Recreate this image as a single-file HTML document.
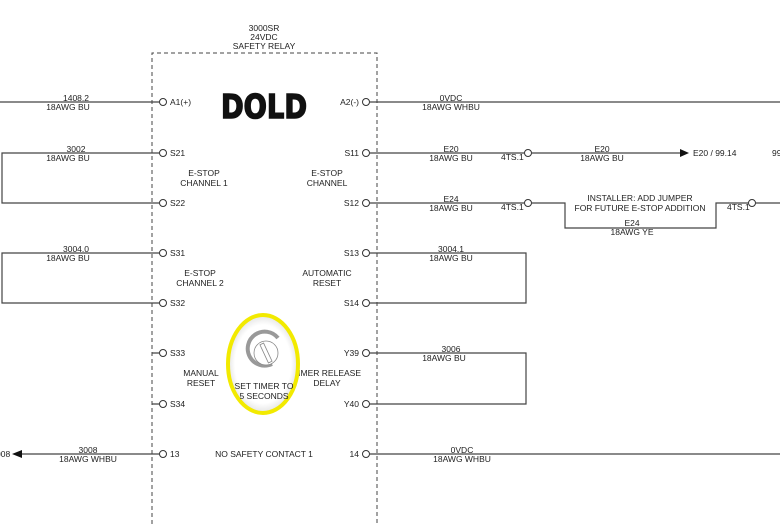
<!DOCTYPE html>
<html><head><meta charset="utf-8"><style>
html,body{margin:0;padding:0;background:#fff;}
svg{display:block;}
text{font-family:"Liberation Sans","DejaVu Sans",sans-serif;font-size:8.5px;fill:#222;}
.c{text-anchor:middle}
.r{text-anchor:end}
</style></head><body>
<svg width="780" height="524" viewBox="0 0 780 524" xmlns="http://www.w3.org/2000/svg">
<defs>
<radialGradient id="g" cx="0.5" cy="0.5" r="0.5"><stop offset="0.8" stop-color="#fff"/><stop offset="1" stop-color="#e4e4e4"/></radialGradient>
</defs>
<text class="c" x="264" y="31">3000SR</text>
<text class="c" x="264" y="40">24VDC</text>
<text class="c" x="264" y="49">SAFETY RELAY</text>
<path d="M152 524V53H377V524" fill="none" stroke="#444" stroke-width="1" stroke-dasharray="4,3"/>
<text x="221" y="118" textLength="86" lengthAdjust="spacingAndGlyphs" style="font-family:'DejaVu Sans',sans-serif;font-size:33px;font-weight:bold;fill:#111;stroke:#111;stroke-width:1.5">DOLD</text>
<g stroke="#444" stroke-width="1.2" fill="none">
<path d="M0 102H159"/>
<path d="M159 153H2V203H159"/>
<path d="M159 253H2V303H159"/>
<path d="M159 353H152M159 404H152"/>
<path d="M20 454H159"/>
<path d="M370 102H780"/>
<path d="M370 153H524M532 153H680"/>
<path d="M370 203H524M532 203H565V228H716V203H748M756 203H780"/>
<path d="M370 253H526V303H370"/>
<path d="M370 353H526V404H370"/>
<path d="M370 454H780"/>
</g>
<g stroke="#333" stroke-width="1" fill="#fff">
<circle cx="163" cy="102" r="3.5"/><circle cx="163" cy="153" r="3.5"/><circle cx="163" cy="203" r="3.5"/>
<circle cx="163" cy="253" r="3.5"/><circle cx="163" cy="303" r="3.5"/><circle cx="163" cy="353" r="3.5"/>
<circle cx="163" cy="404" r="3.5"/><circle cx="163" cy="454" r="3.5"/>
<circle cx="366" cy="102" r="3.5"/><circle cx="366" cy="153" r="3.5"/><circle cx="366" cy="203" r="3.5"/>
<circle cx="366" cy="253" r="3.5"/><circle cx="366" cy="303" r="3.5"/><circle cx="366" cy="353" r="3.5"/>
<circle cx="366" cy="404" r="3.5"/><circle cx="366" cy="454" r="3.5"/>
<circle cx="528" cy="153" r="3.5"/><circle cx="528" cy="203" r="3.5"/><circle cx="752" cy="203" r="3.5"/>
</g>
<path d="M680 149L689 153L680 157Z" fill="#111"/>
<path d="M12 454L22 450V458Z" fill="#111"/>
<text x="170" y="105">A1(+)</text><text x="170" y="156">S21</text><text x="170" y="206">S22</text>
<text x="170" y="256">S31</text><text x="170" y="306">S32</text><text x="170" y="356">S33</text>
<text x="170" y="407">S34</text><text x="170" y="457">13</text>
<text class="r" x="359" y="105">A2(-)</text><text class="r" x="359" y="156">S11</text><text class="r" x="359" y="206">S12</text>
<text class="r" x="359" y="256">S13</text><text class="r" x="359" y="306">S14</text><text class="r" x="359" y="356">Y39</text>
<text class="r" x="359" y="407">Y40</text><text class="r" x="359" y="457">14</text>
<text class="c" x="204" y="176">E-STOP</text><text class="c" x="204" y="186">CHANNEL 1</text>
<text class="c" x="327" y="176">E-STOP</text><text class="c" x="327" y="186">CHANNEL</text>
<text class="c" x="200" y="276">E-STOP</text><text class="c" x="200" y="286">CHANNEL 2</text>
<text class="c" x="327" y="276">AUTOMATIC</text><text class="c" x="327" y="286">RESET</text>
<text class="c" x="201" y="376">MANUAL</text><text class="c" x="201" y="386">RESET</text>
<text class="c" x="327" y="376">TIMER RELEASE</text><text class="c" x="327" y="386">DELAY</text>
<text class="c" x="264" y="457">NO SAFETY CONTACT 1</text>
<ellipse cx="263" cy="364" rx="35" ry="49" fill="url(#g)" stroke="#f2ea00" stroke-width="4"/>
<path d="M278 338A17 17 0 1 0 272 364" fill="none" stroke="#999" stroke-width="4"/>
<circle cx="266" cy="353" r="12" fill="#fff" stroke="#888" stroke-width="0.8"/>
<rect x="264" y="343" width="4" height="20" fill="#fff" stroke="#888" stroke-width="0.8" transform="rotate(-25 266 353)"/>
<text class="c" x="264" y="389">SET TIMER TO</text><text class="c" x="264" y="399">5 SECONDS</text>
<text class="c" x="76" y="101">1408.2</text><text class="c" x="68" y="110">18AWG  BU</text>
<text class="c" x="76" y="152">3002</text><text class="c" x="68" y="161">18AWG  BU</text>
<text class="c" x="76" y="252">3004.0</text><text class="c" x="68" y="261">18AWG  BU</text>
<text class="c" x="88" y="453">3008</text><text class="c" x="88" y="462">18AWG  WHBU</text>
<text x="-4" y="457">008</text>
<text class="c" x="451" y="101">0VDC</text><text class="c" x="451" y="110">18AWG  WHBU</text>
<text class="c" x="451" y="152">E20</text><text class="c" x="451" y="161">18AWG  BU</text>
<text x="501" y="160">4TS.1</text>
<text class="c" x="602" y="152">E20</text><text class="c" x="602" y="161">18AWG  BU</text>
<text x="693" y="156">E20 / 99.14</text>
<text x="772" y="156">99</text>
<text class="c" x="451" y="202">E24</text><text class="c" x="451" y="211">18AWG  BU</text>
<text x="501" y="210">4TS.1</text>
<text class="c" x="640" y="201">INSTALLER: ADD JUMPER</text><text class="c" x="640" y="211">FOR FUTURE E-STOP ADDITION</text>
<text class="c" x="632" y="226">E24</text><text class="c" x="632" y="235">18AWG  YE</text>
<text x="727" y="210">4TS.1</text>
<text class="c" x="451" y="252">3004.1</text><text class="c" x="451" y="261">18AWG  BU</text>
<text class="c" x="451" y="352">3006</text><text class="c" x="444" y="361">18AWG  BU</text>
<text class="c" x="462" y="453">0VDC</text><text class="c" x="462" y="462">18AWG  WHBU</text>
</svg>
</body></html>
